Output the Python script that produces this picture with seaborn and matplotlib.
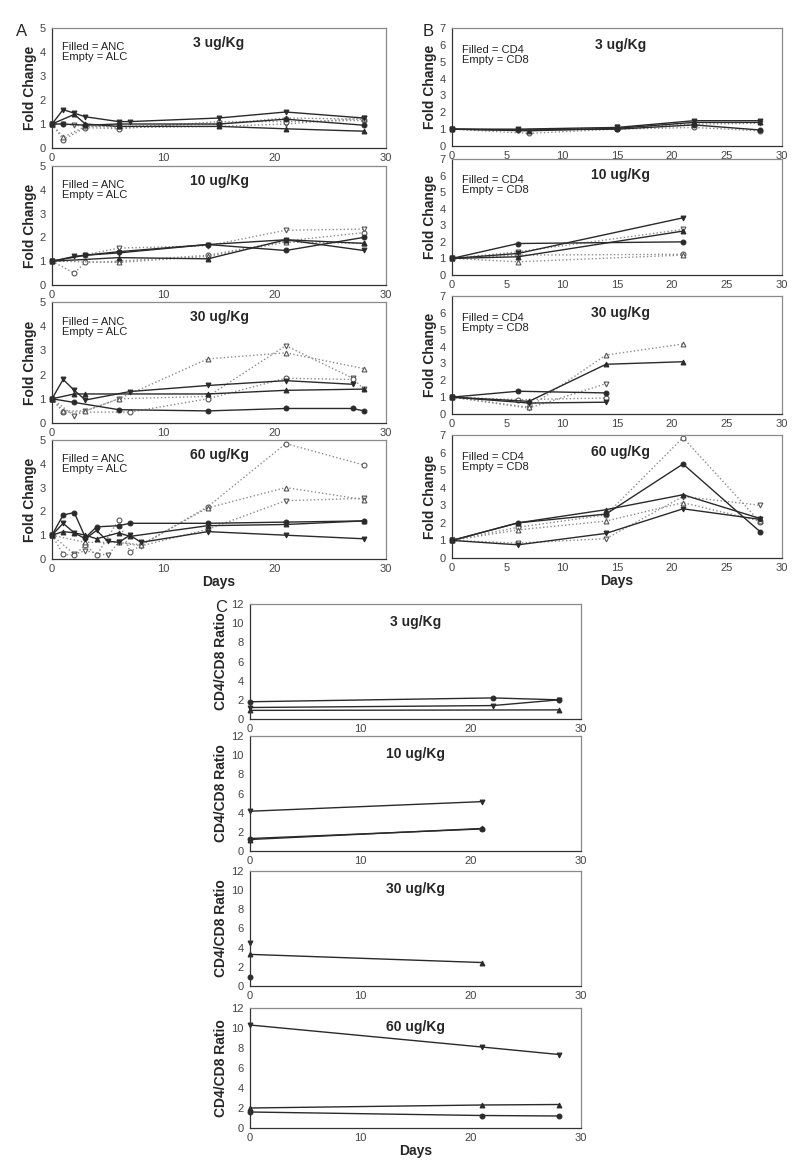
import matplotlib
matplotlib.use("Agg")
import matplotlib.pyplot as plt
import seaborn as sns

# ===== Data =====
# Panel A: fold change of ANC (filled) and ALC (empty), per dose, one (days, values) pair per patient
A03_ANC = [([0, 1, 2, 3, 6, 7, 15, 21, 28], [1.0, 1.6, 1.45, 1.3, 1.1, 1.1, 1.25, 1.5, 1.25]),
           ([0, 1, 3, 6, 15, 21, 28], [1.0, 1.0, 0.95, 1.0, 1.0, 1.2, 0.95]),
           ([0, 2, 3, 6, 15, 21, 28], [1.0, 1.4, 1.0, 0.9, 0.9, 0.8, 0.7])]
A03_ALC = [([0, 1, 2, 6, 15, 21, 28], [1.0, 1.0, 0.95, 0.85, 0.9, 1.0, 1.25]),
           ([0, 1, 3, 6, 15, 21, 28], [1.0, 0.35, 0.85, 0.8, 1.1, 1.1, 1.15]),
           ([0, 1, 3, 6, 15, 21, 28], [1.0, 0.45, 0.9, 0.9, 1.0, 1.25, 1.2])]

A10_ANC = [([0, 2, 3, 6, 14, 21, 28], [1.0, 1.2, 1.25, 1.35, 1.7, 1.9, 1.45]),
           ([0, 3, 6, 14, 21, 28], [1.0, 1.25, 1.4, 1.7, 1.45, 2.0]),
           ([0, 6, 14, 21, 28], [1.0, 1.15, 1.1, 1.9, 1.75])]
A10_ALC = [([0, 6, 14, 21, 28], [1.0, 1.55, 1.65, 2.3, 2.35]),
           ([0, 2, 3, 6, 14, 21, 28], [1.0, 0.5, 0.95, 1.0, 1.25, 1.85, 2.2]),
           ([0, 6, 14, 21, 28], [1.0, 0.95, 1.2, 1.8, 1.75])]

A30_ANC = [([0, 1, 2, 3, 7, 14, 21, 27], [1.0, 1.8, 1.35, 0.95, 1.3, 1.55, 1.75, 1.6]),
           ([0, 2, 6, 14, 21, 27, 28], [1.0, 0.85, 0.55, 0.5, 0.6, 0.6, 0.5]),
           ([0, 2, 3, 14, 21, 28], [1.0, 1.2, 1.2, 1.2, 1.35, 1.4])]
A30_ALC = [([0, 2, 3, 6, 14, 21, 27, 28], [1.0, 0.3, 0.5, 1.0, 1.1, 3.2, 1.85, 1.4]),
           ([0, 1, 7, 14, 21, 27], [1.0, 0.45, 0.45, 1.0, 1.85, 1.8]),
           ([0, 1, 3, 6, 14, 21, 28], [1.0, 0.5, 0.5, 1.0, 2.65, 2.9, 2.25])]

A60_ANC = [([0, 1, 2, 3, 4, 5, 6, 7, 8, 14, 21, 28],
            [1.0, 1.5, 1.1, 0.85, 1.2, 0.75, 0.7, 1.0, 0.7, 1.15, 1.0, 0.85]),
           ([0, 1, 2, 3, 4, 6, 7, 14, 21, 28], [1.0, 1.85, 1.95, 0.9, 1.35, 1.4, 1.5, 1.5, 1.55, 1.6]),
           ([0, 1, 2, 3, 4, 6, 7, 14, 21, 28], [1.0, 1.15, 1.1, 1.0, 0.85, 1.1, 0.95, 1.4, 1.45, 1.6])]
A60_ALC = [([0, 2, 3, 5, 6, 8, 14, 21, 28], [1.0, 0.2, 0.35, 0.15, 0.7, 0.55, 1.25, 2.45, 2.55]),
           ([0, 1, 2, 3, 4, 6, 7, 14, 21, 28], [1.0, 0.2, 0.15, 0.6, 0.15, 1.65, 0.3, 2.2, 4.85, 3.95]),
           ([0, 3, 6, 8, 14, 21, 28], [1.0, 0.7, 0.7, 0.6, 2.15, 3.0, 2.5])]

# Panel B: fold change of CD4 (filled) and CD8 (empty)
B03_CD4 = [([0, 6, 15, 22, 28], [1.0, 1.0, 1.1, 1.5, 1.5]),
           ([0, 6, 15, 22, 28], [1.0, 0.95, 1.0, 1.25, 0.95]),
           ([0, 7, 15, 22, 28], [1.0, 0.9, 1.05, 1.4, 1.4])]
B03_CD8 = [([0, 6, 15, 22, 28], [1.0, 0.95, 1.1, 1.3, 1.35]),
           ([0, 7, 15, 22, 28], [1.0, 0.75, 1.0, 1.1, 0.9])]

B10_CD4 = [([0, 6, 21], [1.0, 1.3, 3.45]),
           ([0, 6, 21], [1.0, 1.9, 2.0]),
           ([0, 6, 21], [1.0, 1.1, 2.65])]
B10_CD8 = [([0, 6, 21], [1.0, 1.4, 2.75]),
           ([0, 6, 21], [1.0, 1.2, 1.25]),
           ([0, 6, 21], [1.0, 0.8, 1.2])]

B30_CD4 = [([0, 7, 14], [1.0, 0.65, 0.7]),
           ([0, 6, 14], [1.0, 1.35, 1.25]),
           ([0, 7, 14, 21], [1.0, 0.75, 2.95, 3.1])]
B30_CD8 = [([0, 7, 14], [1.0, 0.35, 1.8]),
           ([0, 6, 14], [1.0, 0.85, 0.95]),
           ([0, 7, 14, 21], [1.0, 0.4, 3.5, 4.15])]

B60_CD4 = [([0, 6, 14, 21, 28], [1.0, 0.75, 1.4, 2.8, 2.2]),
           ([0, 6, 14, 21, 28], [1.0, 2.0, 2.5, 5.35, 1.5]),
           ([0, 6, 14, 21, 28], [1.0, 2.0, 2.75, 3.6, 2.25])]
B60_CD8 = [([0, 6, 14, 21, 28], [1.0, 0.85, 1.1, 3.5, 3.0]),
           ([0, 6, 14, 21, 28], [1.0, 1.75, 2.45, 6.85, 2.05]),
           ([0, 6, 14, 21, 28], [1.0, 1.6, 2.1, 3.15, 2.1])]

# Panel C: CD4/CD8 ratio
C03 = [([0, 22, 28], [1.2, 1.4, 2.0]),
       ([0, 22, 28], [1.8, 2.2, 2.0]),
       ([0, 28], [0.9, 0.95])]
C10 = [([0, 21], [4.15, 5.15]),
       ([0, 21], [1.3, 2.3]),
       ([0, 21], [1.2, 2.35])]
C30 = [([0], [4.5]),
       ([0], [0.95]),
       ([0, 21], [3.3, 2.45])]
C60 = [([0, 21, 28], [10.3, 8.1, 7.35]),
       ([0, 21, 28], [1.6, 1.25, 1.2]),
       ([0, 21, 28], [2.0, 2.3, 2.35])]

DOSES = ["3 ug/Kg", "10 ug/Kg", "30 ug/Kg", "60 ug/Kg"]

# ===== Style =====
sns.set_style("white")
plt.rcParams["font.family"] = ["Liberation Sans", "DejaVu Sans"]

MARKERS = ["v", "o", "^"]
FRAME = "#8a8a8a"

fig = plt.figure(figsize=(8, 11.64), dpi=100)


def add_axes(px_left, px_right, px_top, px_bottom):
    W, H = 800, 1164
    return fig.add_axes([px_left / W, 1 - px_bottom / H,
                         (px_right - px_left) / W, (px_bottom - px_top) / H])


def style_axes(ax, ymax, ystep, xticks, ylabel):
    ax.set_xlim(0, 30)
    ax.set_ylim(0, ymax)
    ax.set_xticks(xticks)
    ax.set_yticks(range(0, ymax + 1, ystep))
    for s in ax.spines.values():
        s.set_color(FRAME)
        s.set_linewidth(0.9)
    ax.spines["left"].set_color("#333333")
    ax.spines["bottom"].set_color("#333333")
    ax.tick_params(axis="both", direction="out", length=3, width=0.7,
                   labelsize=8, colors="#333333", labelcolor="#444444", pad=1.5)
    ax.tick_params(axis="x", length=2)
    ax.set_xlabel("")
    ax.set_ylabel(ylabel, fontsize=10, fontweight="bold", labelpad=2)


def draw_series(ax, series, filled):
    for i, (days, vals) in enumerate(series):
        m = MARKERS[i % len(MARKERS)]
        if filled:
            sns.lineplot(x=days, y=vals, ax=ax, estimator=None, sort=False,
                         color="#2a2a2a", linewidth=1.0, marker=m, markersize=3.5,
                         markerfacecolor="#2a2a2a", markeredgecolor="#2a2a2a",
                         clip_on=False)
        else:
            sns.lineplot(x=days, y=vals, ax=ax, estimator=None, sort=False,
                         color="#8c8c8c", linewidth=1.0, linestyle=":", marker=m,
                         markersize=3.5, markerfacecolor="white",
                         markeredgecolor="#555555", markeredgewidth=0.8,
                         clip_on=False)


# ----------------------------
# Panel A
# ----------------------------
a_rows = [(28, 148), (166, 285), (302, 423), (440, 559)]
a_data = [(A03_ANC, A03_ALC), (A10_ANC, A10_ALC), (A30_ANC, A30_ALC), (A60_ANC, A60_ALC)]
for (top, bot), (anc, alc), dose in zip(a_rows, a_data, DOSES):
    ax = add_axes(52, 386, top, bot)
    draw_series(ax, alc, filled=False)
    draw_series(ax, anc, filled=True)
    style_axes(ax, 5, 1, [0, 10, 20, 30], "Fold Change")
    ax.text(0.03, 0.88, "Filled = ANC\nEmpty = ALC", transform=ax.transAxes,
            fontsize=8, va="top", ha="left", linespacing=1.0, color="#222222")
    ax.text(0.50, 0.875, dose, transform=ax.transAxes, fontsize=10,
            fontweight="bold", ha="center", va="center")
    last_a = ax
last_a.set_xlabel("Days", fontsize=10, fontweight="bold", labelpad=1)

# ----------------------------
# Panel B
# ----------------------------
b_rows = [(28, 146), (159, 275), (296, 414), (435, 558)]
b_data = [(B03_CD4, B03_CD8), (B10_CD4, B10_CD8), (B30_CD4, B30_CD8), (B60_CD4, B60_CD8)]
for (top, bot), (cd4, cd8), dose in zip(b_rows, b_data, DOSES):
    ax = add_axes(452, 782, top, bot)
    draw_series(ax, cd8, filled=False)
    draw_series(ax, cd4, filled=True)
    style_axes(ax, 7, 1, [0, 5, 10, 15, 20, 25, 30], "Fold Change")
    ax.text(0.03, 0.86, "Filled = CD4\nEmpty = CD8", transform=ax.transAxes,
            fontsize=8, va="top", ha="left", linespacing=1.0, color="#222222")
    ax.text(0.51, 0.86, dose, transform=ax.transAxes, fontsize=10,
            fontweight="bold", ha="center", va="center")
    last_b = ax
last_b.set_xlabel("Days", fontsize=10, fontweight="bold", labelpad=1)

# ----------------------------
# Panel C
# ----------------------------
c_rows = [(604, 719), (736, 851), (871, 986), (1008, 1128)]
c_data = [C03, C10, C30, C60]
for (top, bot), ratio, dose in zip(c_rows, c_data, DOSES):
    ax = add_axes(250, 581, top, bot)
    draw_series(ax, ratio, filled=True)
    style_axes(ax, 12, 2, [0, 10, 20, 30], "CD4/CD8 Ratio")
    ax.text(0.50, 0.84, dose, transform=ax.transAxes, fontsize=10,
            fontweight="bold", ha="center", va="center")
    last_c = ax
last_c.set_xlabel("Days", fontsize=10, fontweight="bold", labelpad=1)

# panel letters
fig.text(22 / 800, 1 - 31 / 1164, "A", fontsize=12, ha="center", va="center")
fig.text(428 / 800, 1 - 31 / 1164, "B", fontsize=12, ha="center", va="center")
fig.text(221 / 800, 1 - 607 / 1164, "C", fontsize=12, ha="center", va="center")

fig.savefig("out.png", dpi=100)
